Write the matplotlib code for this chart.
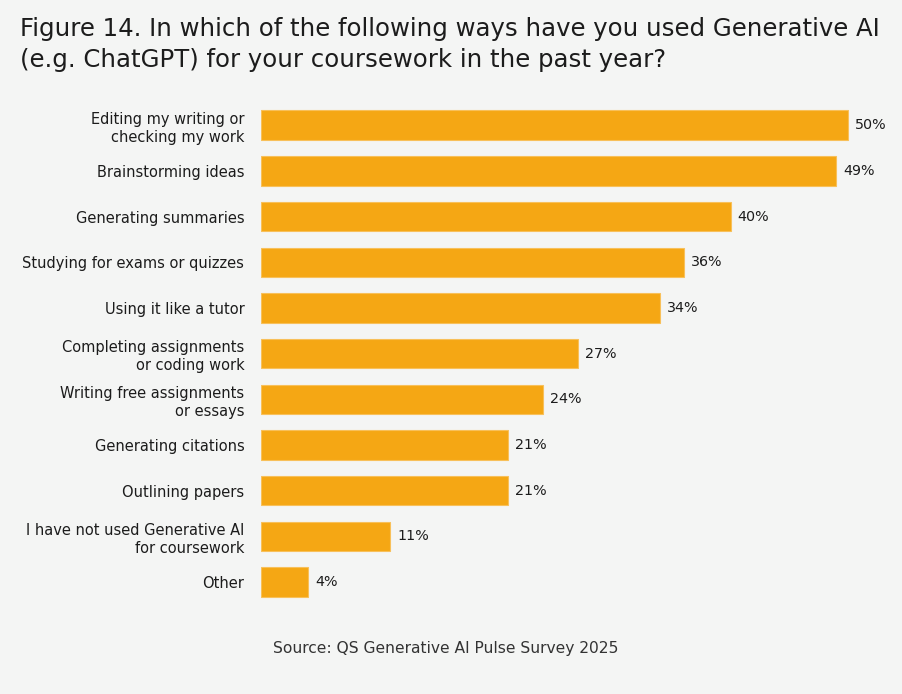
import numpy as np
import matplotlib.pyplot as plt

# Datos de la encuesta
categorias = [
    "Editing my writing or\nchecking my work",
    "Brainstorming ideas",
    "Generating summaries",
    "Studying for exams or quizzes",
    "Using it like a tutor",
    "Completing assignments\nor coding work",
    "Writing free assignments\nor essays",
    "Generating citations",
    "Outlining papers",
    "I have not used Generative AI\nfor coursework",
    "Other",
]
valores = [50, 49, 40, 36, 34, 27, 24, 21, 21, 11, 4]

fondo = '#f4f5f4'
naranja = '#f5a714'
texto = '#1c1c1c'

plt.rcParams['font.family'] = ['DejaVu Sans']

fig = plt.figure(figsize=(9.02, 6.94), dpi=100, facecolor=fondo)
ax = fig.add_axes([261/902, 0.1284, (895-261)/902, 0.8525-0.1284])
ax.set_facecolor(fondo)

y = np.arange(len(valores))
ax.barh(y, valores, height=0.645, color=naranja, edgecolor='#f8c05a', linewidth=0.8)

for yi, v in zip(y, valores):
    ax.text(v + 0.6, yi, f"{v}%", va='center', ha='left', fontsize=10.3, color=texto)

ax.set_xlim(0, 54)
ax.set_ylim(10.5, -0.5)
ax.set_yticks(y)
ax.set_yticklabels(categorias, fontsize=10.5, color=texto, linespacing=1.25)
ax.tick_params(axis='y', length=0, pad=12)
ax.set_xticks([])
for s in ax.spines.values():
    s.set_visible(False)

# Título
fig.text(20/902, 1 - 17/694, "Figure 14. In which of the following ways have you used Generative AI\n(e.g. ChatGPT) for your coursework in the past year?",
         ha='left', va='top', fontsize=17.6, color=texto, linespacing=1.35)

# Fuente
fig.text(446/902, 1 - 648/694, "Source: QS Generative AI Pulse Survey 2025",
         ha='center', va='center', fontsize=11.2, color='#333333')

fig.savefig('out.png', dpi=100, facecolor=fondo)
